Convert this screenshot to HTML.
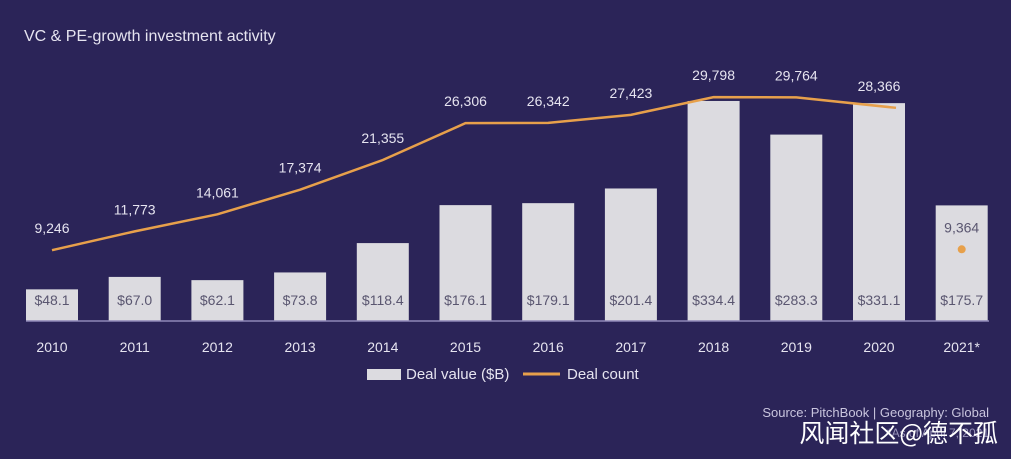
<!DOCTYPE html>
<html><head><meta charset="utf-8"><style>
body{margin:0;width:1011px;height:459px;background:#2b2458;overflow:hidden;font-family:"Liberation Sans","Noto Sans CJK SC",sans-serif;}
svg{display:block}
</style></head><body>
<svg id="c" width="1011" height="459">
<rect width="1011" height="459" fill="#2b2458"/>
<text x="24" y="41" fill="#e6e4f0" font-size="16">VC &amp; PE-growth investment activity</text>
<g id="bars"></g><g id="lbl"></g>
<line x1="26" y1="321" x2="989" y2="321" stroke="#8f88b8" stroke-width="1.5"/>
<g>
<rect x="367" y="369" width="34" height="11" fill="#dcdbe0"/>
<text x="406" y="379" fill="#e6e4f0" font-size="15">Deal value ($B)</text>
<line x1="523" y1="374" x2="560" y2="374" stroke="#e7a04b" stroke-width="3"/>
<text x="567" y="379" fill="#e6e4f0" font-size="15">Deal count</text>
</g>
<text x="989" y="417" text-anchor="end" fill="#c9c5de" font-size="13">Source: PitchBook | Geography: Global</text>
<text x="989" y="437" text-anchor="end" fill="#9a95bb" font-size="12">*As of April 7, 2021</text>
<text x="998" y="442" text-anchor="end" fill="#ffffff" font-size="25" font-family="Noto Sans CJK SC, sans-serif">风闻社区@德不孤</text>
</svg>
<script>
const years=["2010","2011","2012","2013","2014","2015","2016","2017","2018","2019","2020","2021*"];
const dealValue=[48.1,67.0,62.1,73.8,118.4,176.1,179.1,201.4,334.4,283.3,331.1,175.7];
const dealCount=[9246,11773,14061,17374,21355,26306,26342,27423,29798,29764,28366,9364];
const NS="http://www.w3.org/2000/svg";
const base=321;
const xc=i=>52+i*82.7;
const yv=v=>base-v*0.658;
const yc=v=>319-v*0.007445;
const bars=document.getElementById('bars'),lbl=document.getElementById('lbl');
function mk(t,a,p){const e=document.createElementNS(NS,t);for(const k in a)e.setAttribute(k,a[k]);p.appendChild(e);return e;}
years.forEach((y,i)=>{
 const r=mk('rect',{x:xc(i)-26,y:yv(dealValue[i]),width:52,height:base-yv(dealValue[i]),fill:'#dcdbe0'},bars);
 
 
 const t=mk('text',{x:xc(i),y:305,'text-anchor':'middle',fill:'#5a5670','font-size':14},lbl);t.textContent='$'+dealValue[i].toFixed(1);
 
 
 const xt=mk('text',{x:xc(i),y:352,'text-anchor':'middle',fill:'#e6e4f0','font-size':14},lbl);xt.textContent=y;
 
 
 const onBar=yc(dealCount[i])-17>yv(dealValue[i])+10;
 const ct=mk('text',{x:xc(i),y:yc(dealCount[i])-17,'text-anchor':'middle',fill:onBar?'#5a5670':'#e6e4f0','font-size':14},lbl);ct.textContent=dealCount[i].toLocaleString('en-US');
 
 
});
let d='';for(let i=0;i<11;i++){let x=xc(i);if(i==10)x+=17;d+=(i?'L':'M')+x+' '+yc(dealCount[i]);}
const p=mk('path',{d:d,fill:'none',stroke:'#e7a04b','stroke-width':2.5},lbl);


const dot=mk('circle',{cx:xc(11),cy:yc(dealCount[11]),r:4,fill:'#e7a04b'},lbl);


</script>
</body></html>
